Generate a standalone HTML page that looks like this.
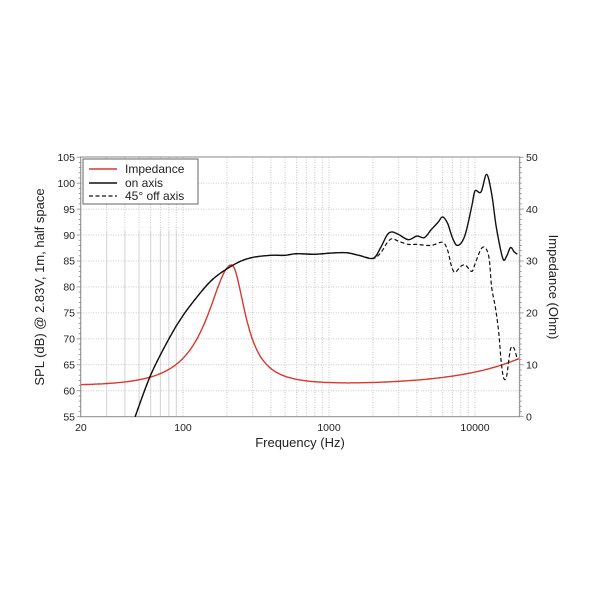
<!DOCTYPE html>
<html><head><meta charset="utf-8"><style>
html,body{margin:0;padding:0;background:#fff;}
svg{display:block;font-family:"Liberation Sans",sans-serif;}
</style></head><body>
<svg id="s" width="600" height="600" xmlns="http://www.w3.org/2000/svg">
<g id="grid"></g>
<rect x="80.7" y="157" width="439" height="259.7" fill="none" stroke="#888" stroke-width="1"/>
<g id="ticks" font-size="10.5" fill="#222"></g>
<path id="imp" fill="none" stroke="#d9382f" stroke-width="1.4"/>
<path id="on" fill="none" stroke="#111" stroke-width="1.4"/>
<path id="off" fill="none" stroke="#111" stroke-width="1.2" stroke-dasharray="4,2.5"/>
<rect x="83" y="159" width="115" height="45" fill="#fff" stroke="#666" stroke-width="1"/>
<line x1="89" y1="169" x2="117" y2="169" stroke="#d9382f" stroke-width="1.4"/>
<line x1="89" y1="183" x2="117" y2="183" stroke="#111" stroke-width="1.4"/>
<line x1="89" y1="196" x2="117" y2="196" stroke="#111" stroke-width="1.2" stroke-dasharray="4,2.5"/>
<text x="125" y="173" font-size="12" fill="#222">Impedance</text>
<text x="125" y="187" font-size="12" fill="#222">on axis</text>
<text x="125" y="200" font-size="12" fill="#222">45° off axis</text>
<text x="300" y="447" font-size="13" text-anchor="middle" fill="#222">Frequency (Hz)</text>
<text transform="translate(44,287) rotate(-90)" font-size="13" text-anchor="middle" fill="#222">SPL (dB) @ 2.83V, 1m, half space</text>
<text transform="translate(549,287) rotate(90)" font-size="13" text-anchor="middle" fill="#222">Impedance (Ohm)</text>
</svg>
<script>
var NS="http://www.w3.org/2000/svg";
function X(f){return 183+146*Math.log10(f/100);}
function Yd(d){return 416.7-(d-55)*5.19;}
function Yo(o){return 416.7-o*5.19;}
function el(p,t,a,txt){var e=document.createElementNS(NS,t);for(var k in a)e.setAttribute(k,a[k]);if(txt!==undefined)e.textContent=txt;p.appendChild(e);return e;}
var g=document.getElementById('grid'),tk=document.getElementById('ticks');
[10,100,1000,10000].forEach(function(dec){for(var m=1;m<10;m++){var f=dec*m;if(f<20||f>20000)continue;var x=X(f);
 el(g,'line',{x1:x,y1:157,x2:x,y2:416.7,stroke:'#c8c8c8','stroke-width':1,'stroke-dasharray':'1,1.5'});}});
for(var f=30;f<=90;f+=10){var x=X(f);el(g,'line',{x1:x,y1:231,x2:x,y2:416.7,stroke:'#d6d6d6','stroke-width':1});}
for(var d=60;d<=100;d+=5){var y=Yd(d);el(g,'line',{x1:80.7,y1:y,x2:519.7,y2:y,stroke:'#c8c8c8','stroke-width':1,'stroke-dasharray':'1,1.5'});}
for(var d=55;d<=105;d++){var y=Yd(d);var L=(d%5==0)?4:2;el(tk,'line',{x1:80.7-L,y1:y,x2:80.7,y2:y,stroke:'#888','stroke-width':0.8});
 if(d%5==0)el(tk,'text',{x:75,y:y+3.7,'text-anchor':'end'},d);}
for(var o=0;o<=50;o++){var y=Yo(o);var L=(o%10==0)?4:2;el(tk,'line',{x1:519.7,y1:y,x2:519.7+L,y2:y,stroke:'#888','stroke-width':0.8});
 if(o%10==0)el(tk,'text',{x:526,y:y+3.7},o);}
[[20,'20'],[100,'100'],[1000,'1000'],[10000,'10000']].forEach(function(a){el(tk,'text',{x:X(a[0]),y:431,'text-anchor':'middle'},a[1]);});
var pts=[];for(var i=0;i<=300;i++){var f=20*Math.pow(1000,i/300);var fs=215;var xx=f/fs-fs/f;var Q=f<fs?1.1:1.9;
 var z=6.0+23.2/(1+Q*Q*xx*xx)+0.00026*f;pts.push([X(f),Yo(z)]);}
function poly(p){return 'M'+p.map(function(q){return q[0].toFixed(1)+','+q[1].toFixed(1);}).join('L');}
document.getElementById('imp').setAttribute('d',poly(pts));
function smooth(p){var s='M'+p[0][0]+','+p[0][1];for(var i=0;i<p.length-1;i++){var p0=p[i-1]||p[i],p1=p[i],p2=p[i+1],p3=p[i+2]||p2;
 s+='C'+(p1[0]+(p2[0]-p0[0])/6).toFixed(1)+','+(p1[1]+(p2[1]-p0[1])/6).toFixed(1)+' '+(p2[0]-(p3[0]-p1[0])/6).toFixed(1)+','+(p2[1]-(p3[1]-p1[1])/6).toFixed(1)+' '+p2[0].toFixed(1)+','+p2[1].toFixed(1);}return s;}
var low=[[47,55],[60,63],[80,70],[100,74.5],[130,78.7],[160,81.5],[200,83.5],[250,85],[300,85.7],[400,86.1],[500,86.1],[600,86.4],[800,86.3],[1000,86.5],[1300,86.6],[1600,86.1],[2000,85.5]];
var on=low.concat([[2250,87.5],[2500,90],[2700,90.6],[3000,90.1],[3500,89.1],[4000,89.8],[4500,89.5],[5000,91],[5600,92.5],[6000,93.5],[6500,92.2],[7000,89.5],[7600,88],[8500,89.8],[9500,95.5],[10000,98.5],[11000,98.3],[12000,101.7],[13000,98],[14000,91.5],[15500,85.5],[16500,86],[17500,87.6],[18500,86.8],[19500,86.3]]);
var off=low.concat([[2250,86.5],[2500,88.5],[2700,89.3],[3000,88.8],[3500,88.2],[4000,88.2],[5000,88],[6000,88.6],[6500,87],[6900,84],[7300,82.8],[8000,84],[8600,84.2],[9500,83],[10000,84.4],[11000,87.3],[11800,87.5],[12500,85.5],[13000,80],[13800,76],[14500,71.5],[15200,65],[15800,62.3],[16500,63],[17500,68],[18500,68.2],[19500,66]]);
document.getElementById('on').setAttribute('d',smooth(on.map(function(q){return [X(q[0]),Yd(q[1])];})));
document.getElementById('off').setAttribute('d',smooth(off.map(function(q){return [X(q[0]),Yd(q[1])];})));
</script>
</body></html>
